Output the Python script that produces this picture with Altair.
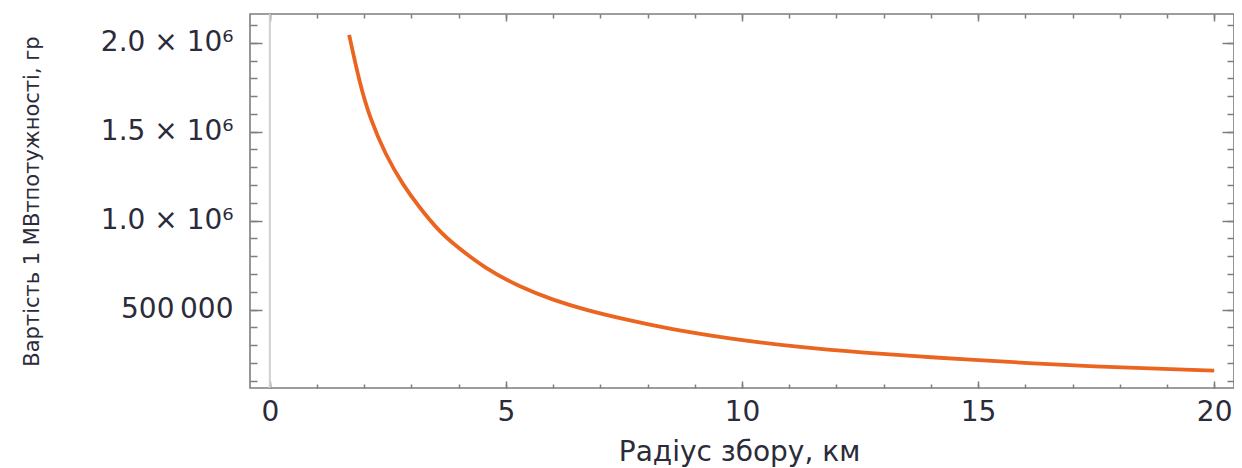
import altair as alt
import pandas as pd

# ---- data ----
radius_km = [1.68, 1.90, 2.12, 2.45, 2.82, 3.18, 3.57, 3.88, 4.59, 5.30, 6.00,
             6.71, 7.42, 8.40, 9.82, 11.23, 12.64, 13.77, 14.76, 16.17, 17.58,
             19.00, 20.00]
cost_per_mw = [2044000, 1775000, 1575000, 1370000, 1200000, 1070000, 945000,
               870000, 725000, 627000, 553000, 497000, 451000, 394000, 333000,
               288000, 256000, 236000, 219000, 197000, 179000, 165000, 157000]

x_major = [0, 5, 10, 15, 20]
x_minor = list(range(0, 21))
y_major = [500000, 1000000, 1500000, 2000000]
y_major_text = ["500\u2009000", "1.0 \u00d7 10\u2076", "1.5 \u00d7 10\u2076", "2.0 \u00d7 10\u2076"]
y_minor = [100000 * i for i in range(1, 22)]
axis_zero = [0]

x_title = "Радіус збору, км"
y_title = "Вартість 1 МВтпотужності, гр"

df = pd.DataFrame({"r": radius_km, "c": cost_per_mw})
zero_df = pd.DataFrame({"r": axis_zero})

FRAME = "#7d7d7d"
TEXT = "#2b2b3a"
FONT = "DejaVu Sans"

xs = alt.Scale(domain=[-0.42, 20.42], nice=False, zero=False)
ys = alt.Scale(domain=[59000, 2161500], nice=False, zero=False)

label_expr = " : ".join(
    f"datum.value == {v} ? '{t}'" for v, t in zip(y_major, y_major_text)
) + " : ''"

base = alt.Chart(df)

zero_rule = alt.Chart(zero_df).mark_rule(color="#d0d0d0", strokeWidth=2).encode(
    x=alt.X("r:Q", scale=xs, axis=None)
)

line = base.mark_line(color="#EB6420", strokeWidth=3.8, interpolate="basis", clip=True).encode(
    x=alt.X("r:Q", scale=xs, axis=alt.Axis(
        orient="bottom", values=x_major, ticks=False, domain=False, grid=False,
        labelPadding=10, labelFontSize=28, labelFont=FONT, labelColor=TEXT,
        title=x_title, titleFontSize=28, titleFont=FONT, titleColor=TEXT,
        titleFontWeight="normal", titleX=489, titleY=50, titleBaseline="top")),
    y=alt.Y("c:Q", scale=ys, axis=alt.Axis(
        orient="left", values=y_major, ticks=False, domain=False, grid=False,
        labelExpr=label_expr, labelPadding=17, labelFontSize=28, labelFont=FONT,
        labelColor=TEXT,
        title=y_title, titleFontSize=21, titleFont=FONT, titleColor=TEXT,
        titleFontWeight="normal", titleX=-208, titleY=187, titleBaseline="bottom")),
)


def tick_layer(xorient, yorient, xvals, yvals, xlen, ylen):
    return base.mark_line(opacity=0).encode(
        x=alt.X("r:Q", scale=xs, title=None, axis=alt.Axis(
            orient=xorient, values=xvals, labels=False, domain=False, grid=False,
            tickColor=FRAME, tickWidth=1.5, tickSize=alt.ExprRef(expr=str(-xlen)))),
        y=alt.Y("c:Q", scale=ys, title=None, axis=alt.Axis(
            orient=yorient, values=yvals, labels=False, domain=False, grid=False,
            tickColor=FRAME, tickWidth=1.5, tickSize=alt.ExprRef(expr=str(-ylen)))),
    )


chart = alt.layer(
    zero_rule,
    line,
    tick_layer("bottom", "left", x_major, y_major, 7, 12),
    tick_layer("bottom", "left", x_minor, y_minor, 4, 7),
    tick_layer("top", "right", x_major, y_major, 7, 12),
    tick_layer("top", "right", x_minor, y_minor, 4, 7),
).resolve_axis(x="independent", y="independent").properties(
    width=984,
    height=374,
    autosize=alt.AutoSizeParams(type="none"),
    padding={"left": 242, "top": 6, "right": 0, "bottom": 80},
).configure_view(stroke=FRAME, strokeWidth=1.6)

chart.save("out.html", embed_options={"renderer": "svg", "actions": False})
